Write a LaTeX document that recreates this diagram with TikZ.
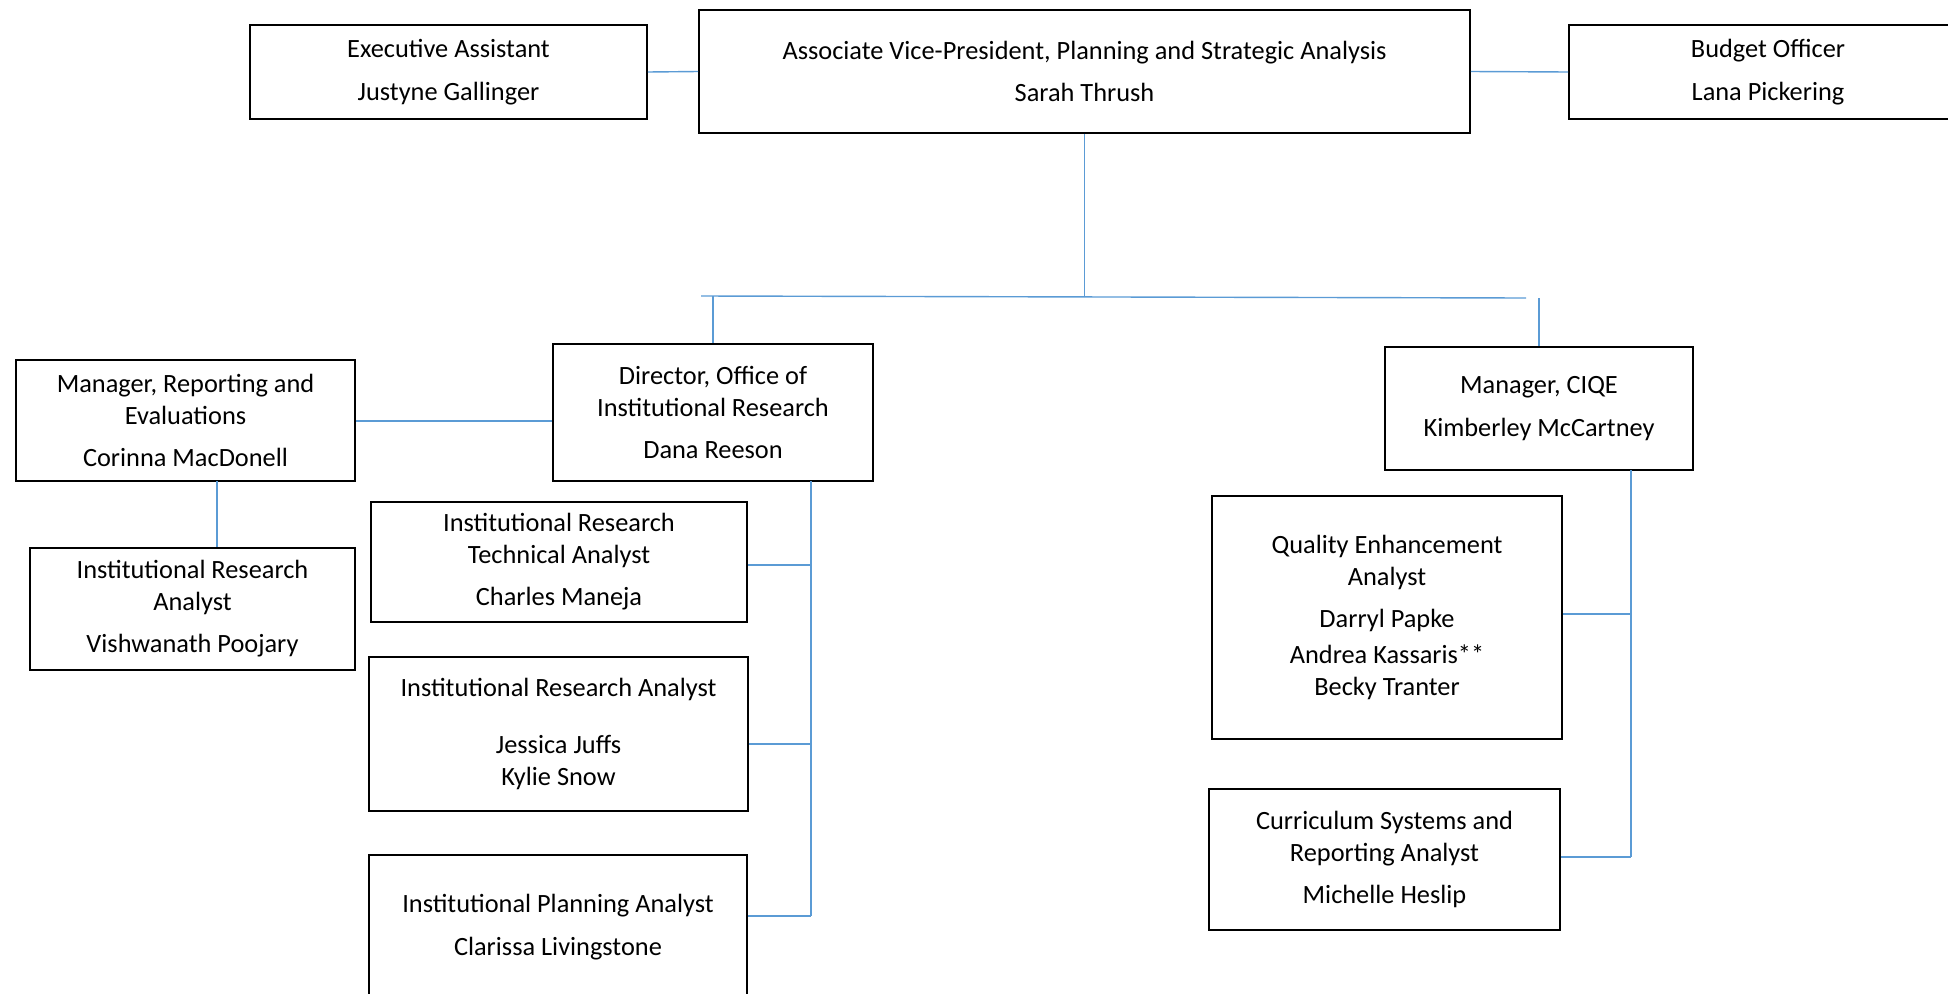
\documentclass[tikz,border=0pt]{standalone}
\usepackage{fontspec}
\setmainfont{Carlito}
\usepackage{xcolor}
\definecolor{linkblue}{HTML}{5B9BD5}

\begin{document}
\begin{tikzpicture}[x=0.02cm, y=-0.02cm, every node/.style={rectangle, draw, line width=1.1pt, align=center, inner sep=0pt, font=\fontsize{15}{18.1}\selectfont, execute at begin node={\rule{0pt}{14pt}}}, link/.style={draw=linkblue, line width=0.8pt}]
                \useasboundingbox (0,0) rectangle (1948,994);

                % Top row
                \node[minimum width=7.94cm, minimum height=1.88cm] (exec) at (448.5,72) {Executive Assistant\\[6pt]Justyne Gallinger};
                \node[minimum width=15.42cm, minimum height=2.46cm] (avp) at (1084.5,71.5) {Associate Vice-President, Planning and Strategic Analysis\\[6pt]Sarah Thrush};
                \node[minimum width=7.96cm, minimum height=1.88cm] (budget) at (1768,72) {Budget Officer\\[6pt]Lana Pickering};

                \draw[link] (exec.east) -- (avp.west);
                \draw[link] (avp.east) -- (budget.west);

                % Institutional Research side
                \node[minimum width=6.4cm, minimum height=2.74cm] (dir) at (713,412.5) {Director, Office of\\Institutional Research\\[6pt]Dana Reeson};
                \node[minimum width=6.78cm, minimum height=2.42cm] (mgr) at (185.5,420.5) {Manager, Reporting and\\Evaluations\\[6pt]Corinna MacDonell};
                \node[minimum width=6.5cm, minimum height=2.44cm] (ira) at (192.5,609) {Institutional Research\\Analyst\\[6pt]Vishwanath Poojary};
                \node[minimum width=7.52cm, minimum height=2.4cm] (tech) at (559,562) {Institutional Research\\Technical Analyst\\[6pt]Charles Maneja};
                \node[minimum width=7.58cm, minimum height=3.08cm] (jess) at (558.5,734) {Institutional Research Analyst\\[14pt]Jessica Juffs\\Kylie Snow};
                \node[minimum width=7.56cm, minimum height=2.88cm] (ipa) at (558,927) {Institutional Planning Analyst\\[6pt]Clarissa Livingstone};

                % CIQE side
                \node[minimum width=6.16cm, minimum height=2.46cm] (ciqe) at (1539,408.5) {Manager, CIQE\\[6pt]Kimberley McCartney};
                \node[minimum width=7cm, minimum height=4.86cm] (qe) at (1387,617.5) {Quality Enhancement\\Analyst\\[5.7pt]Darryl Papke\\[2.8pt]Andrea Kassaris**\\Becky Tranter};
                \node[minimum width=7.02cm, minimum height=2.82cm] (csra) at (1384.5,859.5) {Curriculum Systems and\\Reporting Analyst\\[6pt]Michelle Heslip};

                % Bus under the AVP
                \coordinate (busL) at (701,296);
                \coordinate (busR) at (1526,298);
                \coordinate (ciqeTop) at (1539,298);
                \draw[link] (avp.south) -- (avp.south |- busL);
                \draw[link] (busL) -- (busR);
                \draw[link] (dir.north) -- (dir.north |- busL);
                \draw[link] (ciqeTop) -- (ciqe.north);

                % Reporting and Evaluations
                \draw[link] (mgr.east |- 0,421) -- (dir.west |- 0,421);
                \coordinate (mgrDrop) at (217,481);
                \draw[link] (mgrDrop) -- (mgrDrop |- ira.north);

                % Director's reports
                \coordinate (dirTop) at (811,481);
                \coordinate (dirB1) at (811,565);
                \coordinate (dirB2) at (811,744);
                \coordinate (dirB3) at (811,916);
                \draw[link] (dirTop) -- (dirB3);
                \draw[link] (tech.east |- dirB1) -- (dirB1);
                \draw[link] (jess.east |- dirB2) -- (dirB2);
                \draw[link] (ipa.east |- dirB3) -- (dirB3);

                % CIQE reports
                \coordinate (ciqeBus) at (1631,470);
                \coordinate (ciqeB1) at (1631,614);
                \coordinate (ciqeB2) at (1631,857);
                \draw[link] (ciqeBus) -- (ciqeB2);
                \draw[link] (qe.east |- ciqeB1) -- (ciqeB1);
                \draw[link] (csra.east |- ciqeB2) -- (ciqeB2);
\end{tikzpicture}
\end{document}
